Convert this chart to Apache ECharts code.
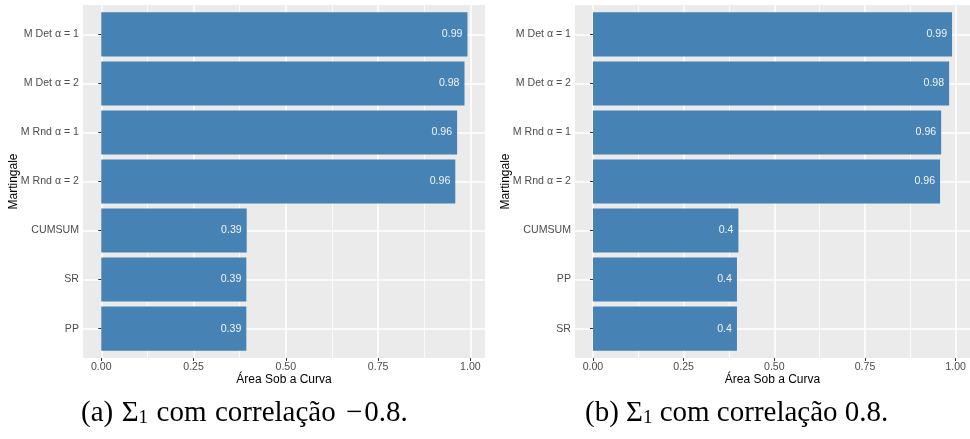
<!DOCTYPE html>
<html><head><meta charset="utf-8">
<script src="https://cdn.jsdelivr.net/npm/echarts@6/dist/echarts.min.js"></script>
<style>html,body{margin:0;padding:0;background:#fff}#c{width:970px;height:439px}</style>
</head><body><div id="c"></div>
<script>
// ---- data ----
const categoriesA = ['M Det α = 1', 'M Det α = 2', 'M Rnd α = 1', 'M Rnd α = 2', 'CUMSUM', 'SR', 'PP'];
const valuesA = [0.992, 0.984, 0.964, 0.959, 0.394, 0.393, 0.393];
const categoriesB = ['M Det α = 1', 'M Det α = 2', 'M Rnd α = 1', 'M Rnd α = 2', 'CUMSUM', 'PP', 'SR'];
const valuesB = [0.990, 0.982, 0.960, 0.957, 0.401, 0.397, 0.397];
const xTicks = [0, 0.25, 0.5, 0.75, 1];
const xTickLabels = ['0.00', '0.25', '0.50', '0.75', '1.00'];
const xMinorTicks = [0.125, 0.375, 0.625, 0.875];
const xTitle = 'Área Sob a Curva';
const yTitle = 'Martingale';
const captionA = {tag: '(a)', sym: 'Σ', sub: '1', words: ['com', 'correlação'], sign: '−', num: '0.8.'};
const captionB = {tag: '(b)', sym: 'Σ', sub: '1', words: ['com', 'correlação'], sign: '', num: '0.8.'};

// ---- layout ----
const X_MIN = -0.0495, X_MAX = 1.0395;
const panels = [
  {cats: categoriesA, vals: valuesA, left: 83},
  {cats: categoriesB, vals: valuesB, left: 575}
];
const PLOT_TOP = 5, PLOT_H = 353, PLOT_W = 402;
const UNIT = PLOT_H / 7.2;

const grid = [], xAxis = [], yAxis = [], series = [];
const sans = 'Liberation Sans';
const TICK_FS = 10.6;
panels.forEach((p, i) => {
  const gBg = grid.length;
  grid.push({left: p.left, top: PLOT_TOP, width: PLOT_W, height: PLOT_H, show: true,
    backgroundColor: '#EBEBEB', borderWidth: 0, containLabel: false});
  const gBar = grid.length;
  grid.push({left: p.left, top: PLOT_TOP + 0.1 * UNIT, width: PLOT_W, height: 7 * UNIT, show: false, containLabel: false});
  // major x axis
  xAxis.push({type: 'value', gridIndex: gBg, min: X_MIN, max: X_MAX, position: 'bottom',
    axisLine: {show: false},
    axisTick: {show: true, customValues: xTicks, length: 3, lineStyle: {color: '#333333', width: 1}},
    axisLabel: {show: true, customValues: xTicks, margin: 4, color: '#4D4D4D', fontSize: TICK_FS, fontFamily: sans,
      formatter: v => xTickLabels[xTicks.indexOf(v)]},
    splitLine: {show: true, lineStyle: {color: '#FFFFFF', width: 1.5}},
    name: xTitle, nameLocation: 'middle', nameGap: 16, nameMoveOverlap: false,
    nameTextStyle: {color: '#000000', fontSize: 12, fontFamily: sans}
  });
  // minor x axis
  xAxis.push({type: 'value', gridIndex: gBg, min: X_MIN, max: X_MAX, position: 'top',
    axisLine: {show: false},
    axisTick: {show: false, customValues: xMinorTicks},
    axisLabel: {show: false, customValues: xMinorTicks},
    splitLine: {show: true, lineStyle: {color: '#FFFFFF', width: 0.8}}
  });
  // y axis (background, labels)
  const pos = p.cats.map((c, k) => k + 1);
  yAxis.push({type: 'value', gridIndex: gBg, min: 0.4, max: 7.6, inverse: true,
    axisLine: {show: false},
    axisTick: {show: true, customValues: pos, length: 3, lineStyle: {color: '#333333', width: 1}},
    axisLabel: {show: true, customValues: pos, margin: 4, color: '#4D4D4D', fontSize: TICK_FS, fontFamily: sans,
      formatter: v => p.cats[Math.round(v) - 1]},
    splitLine: {show: true, lineStyle: {color: '#FFFFFF', width: 1.5}},
    name: yTitle, nameLocation: 'middle', nameRotate: 90, nameGap: 63, nameMoveOverlap: false,
    nameTextStyle: {color: '#000000', fontSize: 12, fontFamily: sans}
  });
  // bar axes
  const xBar = xAxis.length;
  xAxis.push({type: 'value', gridIndex: gBar, min: X_MIN, max: X_MAX, show: false});
  const yBar = yAxis.length;
  yAxis.push({type: 'category', gridIndex: gBar, data: p.cats, inverse: true, show: false});
  series.push({type: 'bar', xAxisIndex: xBar, yAxisIndex: yBar, data: p.vals,
    barCategoryGap: '10%', itemStyle: {color: '#4682B4'}, silent: true,
    label: {show: true, position: 'insideRight', distance: 5, color: '#F2F2F2', fontSize: 10.6, fontFamily: sans,
      formatter: d => String(Number(d.value.toFixed(2)))}
  });
});

const serif = 'Liberation Serif';
function caption(c, left) {
  let t = '{m|' + c.tag + '}{sp| }{m|' + c.sym + '}{s|' + c.sub + '}';
  c.words.forEach(w => { t += '{sp| }{m|' + w + '}'; });
  t += '{sp| }';
  if (c.sign) t += '{mi|' + c.sign + '}';
  t += '{m|' + c.num + '}';
  return {type: 'text', left: left, top: 399, style: {
    text: t,
    rich: {
      m: {fontFamily: serif, fontSize: 29, lineHeight: 34, verticalAlign: 'bottom', fill: '#000'},
      sp: {fontFamily: serif, fontSize: 29, lineHeight: 34, verticalAlign: 'bottom', fill: '#000', width: c.sign ? 8.5 : 7.25},
      mi: {fontFamily: serif, fontSize: 29, lineHeight: 34, verticalAlign: 'bottom', fill: '#000', width: 20, align: 'right'},
      s: {fontFamily: serif, fontSize: 19, lineHeight: 20, verticalAlign: 'bottom', fill: '#000'}
    }
  }};
}

const chart = echarts.init(document.getElementById('c'), null, {renderer: 'canvas'});
chart.setOption({
  animation: false,
  backgroundColor: '#FFFFFF',
  grid, xAxis, yAxis, series,
  graphic: [caption(captionA, 81), caption(captionB, 585)]
});
</script></body></html>
